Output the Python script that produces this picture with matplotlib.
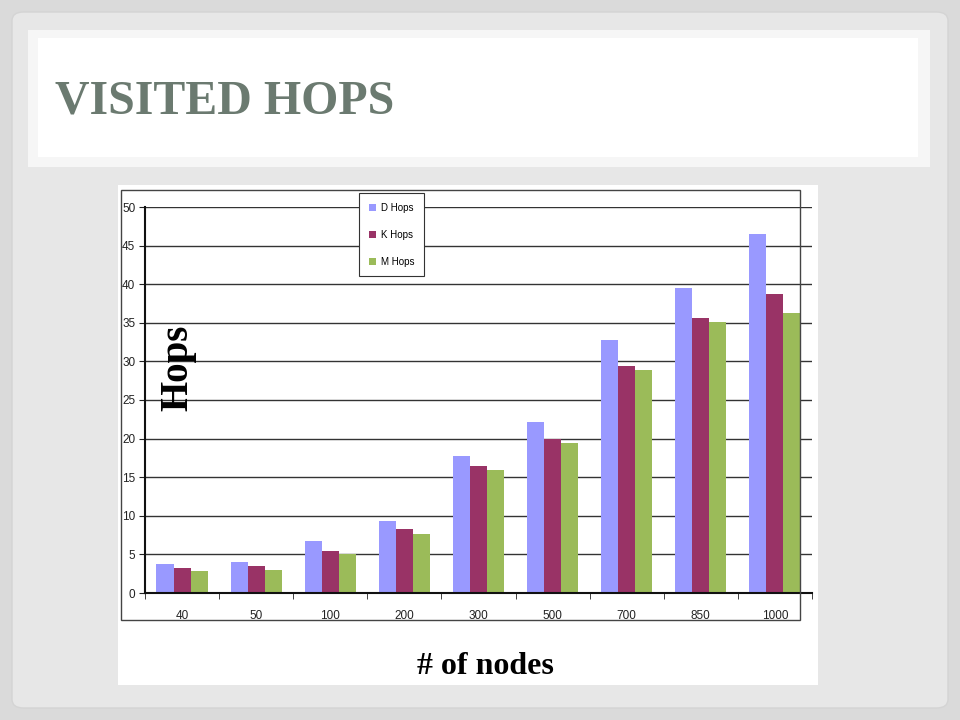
"""Slide recreation: visited hops bar chart."""

import matplotlib

matplotlib.use("Agg")
import matplotlib.pyplot as plt
import numpy as np
from matplotlib.patches import FancyBboxPatch, Rectangle

# data
nodes = ["40", "50", "100", "200", "300", "500", "700", "850", "1000"]
d_hops = [3.8, 4.0, 6.7, 9.3, 17.7, 22.1, 32.8, 39.5, 46.5]
k_hops = [3.3, 3.5, 5.5, 8.3, 16.5, 19.9, 29.4, 35.6, 38.7]
m_hops = [2.8, 3.0, 5.0, 7.7, 15.9, 19.4, 28.9, 35.1, 36.3]
series_labels = ["D Hops", "K Hops", "M Hops"]
y_ticks = list(range(0, 51, 5))

W, H = 960, 720


def fx(x):
    return x / W


def fy(y):
    return 1 - y / H


fig = plt.figure(figsize=(9.6, 7.2), dpi=100, facecolor="#dadada")

# slide panel
fig.add_artist(FancyBboxPatch((fx(12), fy(708)), fx(936), 696 / H,
                              boxstyle="round,pad=0,rounding_size=0.012",
                              transform=fig.transFigure, facecolor="#e7e7e7",
                              edgecolor="#d4d4d4", lw=1, zorder=-10))
# title box
fig.add_artist(Rectangle((fx(28), fy(167)), fx(902), 137 / H, transform=fig.transFigure,
                         facecolor="#f6f6f6", edgecolor="none", zorder=-9))
fig.add_artist(Rectangle((fx(38), fy(157)), fx(880), 119 / H, transform=fig.transFigure,
                         facecolor="white", edgecolor="none", zorder=-8))
fig.text(fx(55), fy(114), "VISITED HOPS", family="Liberation Serif", weight="bold",
         fontsize=34.5, color="#6b7a70", ha="left", va="baseline")

# white chart picture
fig.add_artist(Rectangle((fx(118), fy(685)), fx(700), 500 / H, transform=fig.transFigure,
                         facecolor="white", edgecolor="none", zorder=-7))
# chart area border
fig.add_artist(Rectangle((fx(121), fy(620)), fx(679), 430 / H, transform=fig.transFigure,
                         facecolor="none", edgecolor="#444444", lw=1, zorder=5))

ax = fig.add_axes([fx(145), fy(593), fx(812 - 145), (593 - 207) / H])
ax.set_facecolor("none")

x = np.arange(len(nodes))
width = 0.23
colors = ["#9999ff", "#993366", "#9bbb59"]
for i, (vals, lab, col) in enumerate(zip([d_hops, k_hops, m_hops], series_labels, colors)):
    ax.bar(x + (i - 1) * width, vals, width, color=col, label=lab, zorder=2)

ax.set_xlim(-0.5, len(nodes) - 0.5)
ax.set_ylim(0, 50)
ax.set_yticks(y_ticks)
ax.yaxis.grid(True, color="#333333", lw=1)
ax.set_axisbelow(True)
ax.set_xticks(x)
ax.set_xticklabels(nodes)
ax.set_xticks(np.arange(len(nodes) + 1) - 0.5, minor=True)
ax.tick_params(axis="x", which="major", length=0, pad=12, labelsize=8.5, labelcolor="#222222")
ax.tick_params(axis="x", which="minor", length=4, direction="out", color="#222222")
ax.tick_params(axis="y", length=4, direction="out", labelsize=8.5, labelcolor="#222222",
               color="#222222", pad=3)
for lbl in ax.get_xticklabels() + ax.get_yticklabels():
    lbl.set_family("Liberation Sans")
for side in ("top", "right"):
    ax.spines[side].set_visible(False)
for side in ("left", "bottom"):
    ax.spines[side].set_color("#111111")
    ax.spines[side].set_linewidth(1.5)

leg = ax.legend(loc="upper left", bbox_to_anchor=(fx(359), fy(193)),
                bbox_transform=fig.transFigure, fancybox=False, framealpha=1,
                edgecolor="#333333", prop={"family": "Liberation Sans", "size": 7},
                handlelength=0.75, handleheight=0.75, handletextpad=0.5,
                labelspacing=1.75, borderpad=1.0, borderaxespad=0)
leg.get_frame().set_linewidth(0.8)

fig.text(fx(178), fy(368), "Hops", family="Liberation Serif", weight="bold",
         fontsize=28, rotation=90, ha="center", va="center", color="black")
fig.text(fx(485), fy(666), "# of nodes", family="Liberation Serif", weight="bold",
         fontsize=23, ha="center", va="center", color="black")

fig.savefig("out.png", dpi=100, facecolor=fig.get_facecolor())
